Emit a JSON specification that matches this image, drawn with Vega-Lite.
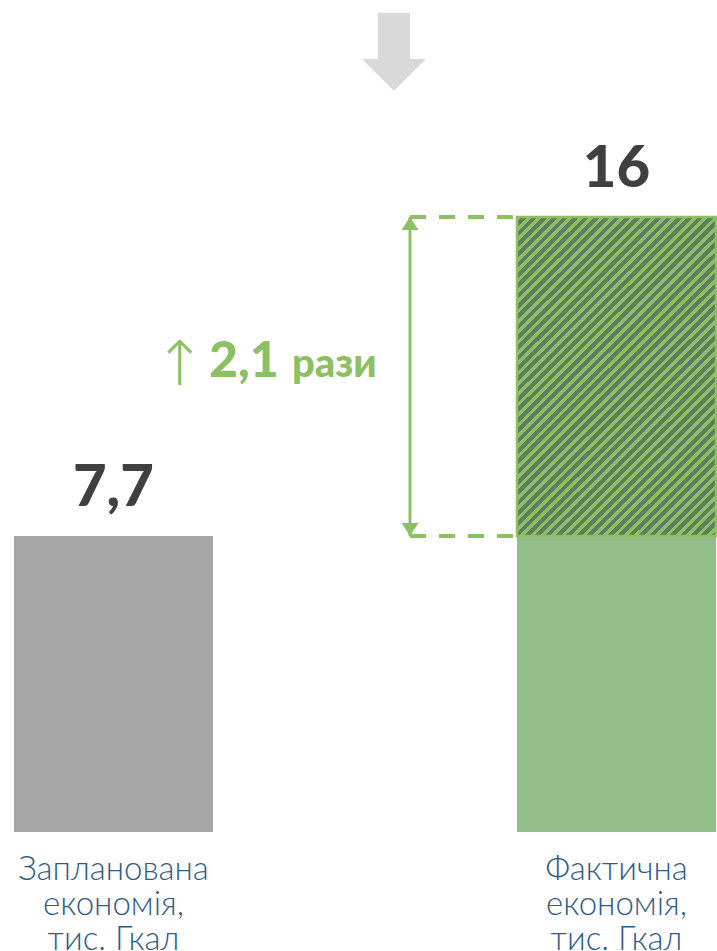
{
  "$schema": "https://vega.github.io/schema/vega-lite/v6.json",
  "width": 717,
  "height": 951,
  "autosize": "none",
  "padding": 0,
  "background": "#ffffff",
  "config": {"view": {"stroke": null}},
  "datasets": {
    "bars": [
      {"category": "Запланована", "segment": "Заплановано", "start": 0, "end": 7.7},
      {"category": "Фактична", "segment": "База", "start": 0, "end": 7.7},
      {"category": "Фактична", "segment": "Понад план", "start": 7.7, "end": 16}
    ],
    "totals": [
      {"category": "Запланована", "total": 7.7, "label": "7,7", "caption": "Запланована\nекономія,\nтис. Гкал"},
      {"category": "Фактична", "total": 16, "label": "16", "caption": "Фактична\nекономія,\nтис. Гкал"}
    ],
    "note": [
      {"arrow": "↑", "ratio": "2,1", "unit": "рази", "mid": 11.85, "top": 20.3}
    ]
  },
  "encoding": {
    "x": {
      "field": "category",
      "type": "nominal",
      "axis": null,
      "scale": {"type": "band", "domain": ["Запланована", "Фактична"], "paddingInner": 0.6044, "paddingOuter": 0.0149, "align": 0.933, "round": false}
    }
  },
  "layer": [
    {
      "data": {"name": "bars"},
      "transform": [{"filter": "datum.segment != 'Понад план'"}],
      "mark": {"type": "bar"},
      "encoding": {
        "y": {"field": "end", "type": "quantitative", "axis": null, "scale": {"domain": [-3.1, 21.65], "nice": false, "zero": false}},
        "y2": {"field": "start"},
        "color": {"field": "segment", "type": "nominal", "legend": null, "scale": {"domain": ["Заплановано", "База"], "range": ["#a6a6a6", "#93bd89"]}}
      }
    },
    {
      "data": {"name": "bars"},
      "transform": [{"filter": "datum.segment == 'Понад план'"}],
      "mark": {
        "type": "bar",
        "stroke": "#8cc063",
        "strokeWidth": 2.5,
        "fill": {
          "gradient": "linear", "x1": 0, "y1": 0, "x2": 0.7273, "y2": 1.1696,
          "stops": [
            {"offset": 0, "color": "#8cc063"}, {"offset": 0.009, "color": "#8cc063"}, {"offset": 0.009, "color": "#5e7d5e"}, {"offset": 0.02, "color": "#5e7d5e"},
            {"offset": 0.02, "color": "#8cc063"}, {"offset": 0.029, "color": "#8cc063"}, {"offset": 0.029, "color": "#5e7d5e"}, {"offset": 0.04, "color": "#5e7d5e"},
            {"offset": 0.04, "color": "#8cc063"}, {"offset": 0.049, "color": "#8cc063"}, {"offset": 0.049, "color": "#5e7d5e"}, {"offset": 0.06, "color": "#5e7d5e"},
            {"offset": 0.06, "color": "#8cc063"}, {"offset": 0.069, "color": "#8cc063"}, {"offset": 0.069, "color": "#5e7d5e"}, {"offset": 0.08, "color": "#5e7d5e"},
            {"offset": 0.08, "color": "#8cc063"}, {"offset": 0.089, "color": "#8cc063"}, {"offset": 0.089, "color": "#5e7d5e"}, {"offset": 0.1, "color": "#5e7d5e"},
            {"offset": 0.1, "color": "#8cc063"}, {"offset": 0.109, "color": "#8cc063"}, {"offset": 0.109, "color": "#5e7d5e"}, {"offset": 0.12, "color": "#5e7d5e"},
            {"offset": 0.12, "color": "#8cc063"}, {"offset": 0.129, "color": "#8cc063"}, {"offset": 0.129, "color": "#5e7d5e"}, {"offset": 0.14, "color": "#5e7d5e"},
            {"offset": 0.14, "color": "#8cc063"}, {"offset": 0.149, "color": "#8cc063"}, {"offset": 0.149, "color": "#5e7d5e"}, {"offset": 0.16, "color": "#5e7d5e"},
            {"offset": 0.16, "color": "#8cc063"}, {"offset": 0.169, "color": "#8cc063"}, {"offset": 0.169, "color": "#5e7d5e"}, {"offset": 0.18, "color": "#5e7d5e"},
            {"offset": 0.18, "color": "#8cc063"}, {"offset": 0.189, "color": "#8cc063"}, {"offset": 0.189, "color": "#5e7d5e"}, {"offset": 0.2, "color": "#5e7d5e"},
            {"offset": 0.2, "color": "#8cc063"}, {"offset": 0.209, "color": "#8cc063"}, {"offset": 0.209, "color": "#5e7d5e"}, {"offset": 0.22, "color": "#5e7d5e"},
            {"offset": 0.22, "color": "#8cc063"}, {"offset": 0.229, "color": "#8cc063"}, {"offset": 0.229, "color": "#5e7d5e"}, {"offset": 0.24, "color": "#5e7d5e"},
            {"offset": 0.24, "color": "#8cc063"}, {"offset": 0.249, "color": "#8cc063"}, {"offset": 0.249, "color": "#5e7d5e"}, {"offset": 0.26, "color": "#5e7d5e"},
            {"offset": 0.26, "color": "#8cc063"}, {"offset": 0.269, "color": "#8cc063"}, {"offset": 0.269, "color": "#5e7d5e"}, {"offset": 0.28, "color": "#5e7d5e"},
            {"offset": 0.28, "color": "#8cc063"}, {"offset": 0.289, "color": "#8cc063"}, {"offset": 0.289, "color": "#5e7d5e"}, {"offset": 0.3, "color": "#5e7d5e"},
            {"offset": 0.3, "color": "#8cc063"}, {"offset": 0.309, "color": "#8cc063"}, {"offset": 0.309, "color": "#5e7d5e"}, {"offset": 0.32, "color": "#5e7d5e"},
            {"offset": 0.32, "color": "#8cc063"}, {"offset": 0.329, "color": "#8cc063"}, {"offset": 0.329, "color": "#5e7d5e"}, {"offset": 0.34, "color": "#5e7d5e"},
            {"offset": 0.34, "color": "#8cc063"}, {"offset": 0.349, "color": "#8cc063"}, {"offset": 0.349, "color": "#5e7d5e"}, {"offset": 0.36, "color": "#5e7d5e"},
            {"offset": 0.36, "color": "#8cc063"}, {"offset": 0.369, "color": "#8cc063"}, {"offset": 0.369, "color": "#5e7d5e"}, {"offset": 0.38, "color": "#5e7d5e"},
            {"offset": 0.38, "color": "#8cc063"}, {"offset": 0.389, "color": "#8cc063"}, {"offset": 0.389, "color": "#5e7d5e"}, {"offset": 0.4, "color": "#5e7d5e"},
            {"offset": 0.4, "color": "#8cc063"}, {"offset": 0.409, "color": "#8cc063"}, {"offset": 0.409, "color": "#5e7d5e"}, {"offset": 0.42, "color": "#5e7d5e"},
            {"offset": 0.42, "color": "#8cc063"}, {"offset": 0.429, "color": "#8cc063"}, {"offset": 0.429, "color": "#5e7d5e"}, {"offset": 0.44, "color": "#5e7d5e"},
            {"offset": 0.44, "color": "#8cc063"}, {"offset": 0.449, "color": "#8cc063"}, {"offset": 0.449, "color": "#5e7d5e"}, {"offset": 0.46, "color": "#5e7d5e"},
            {"offset": 0.46, "color": "#8cc063"}, {"offset": 0.469, "color": "#8cc063"}, {"offset": 0.469, "color": "#5e7d5e"}, {"offset": 0.48, "color": "#5e7d5e"},
            {"offset": 0.48, "color": "#8cc063"}, {"offset": 0.489, "color": "#8cc063"}, {"offset": 0.489, "color": "#5e7d5e"}, {"offset": 0.5, "color": "#5e7d5e"},
            {"offset": 0.5, "color": "#8cc063"}, {"offset": 0.509, "color": "#8cc063"}, {"offset": 0.509, "color": "#5e7d5e"}, {"offset": 0.52, "color": "#5e7d5e"},
            {"offset": 0.52, "color": "#8cc063"}, {"offset": 0.529, "color": "#8cc063"}, {"offset": 0.529, "color": "#5e7d5e"}, {"offset": 0.54, "color": "#5e7d5e"},
            {"offset": 0.54, "color": "#8cc063"}, {"offset": 0.549, "color": "#8cc063"}, {"offset": 0.549, "color": "#5e7d5e"}, {"offset": 0.56, "color": "#5e7d5e"},
            {"offset": 0.56, "color": "#8cc063"}, {"offset": 0.569, "color": "#8cc063"}, {"offset": 0.569, "color": "#5e7d5e"}, {"offset": 0.58, "color": "#5e7d5e"},
            {"offset": 0.58, "color": "#8cc063"}, {"offset": 0.589, "color": "#8cc063"}, {"offset": 0.589, "color": "#5e7d5e"}, {"offset": 0.6, "color": "#5e7d5e"},
            {"offset": 0.6, "color": "#8cc063"}, {"offset": 0.609, "color": "#8cc063"}, {"offset": 0.609, "color": "#5e7d5e"}, {"offset": 0.62, "color": "#5e7d5e"},
            {"offset": 0.62, "color": "#8cc063"}, {"offset": 0.629, "color": "#8cc063"}, {"offset": 0.629, "color": "#5e7d5e"}, {"offset": 0.64, "color": "#5e7d5e"},
            {"offset": 0.64, "color": "#8cc063"}, {"offset": 0.649, "color": "#8cc063"}, {"offset": 0.649, "color": "#5e7d5e"}, {"offset": 0.66, "color": "#5e7d5e"},
            {"offset": 0.66, "color": "#8cc063"}, {"offset": 0.669, "color": "#8cc063"}, {"offset": 0.669, "color": "#5e7d5e"}, {"offset": 0.68, "color": "#5e7d5e"},
            {"offset": 0.68, "color": "#8cc063"}, {"offset": 0.689, "color": "#8cc063"}, {"offset": 0.689, "color": "#5e7d5e"}, {"offset": 0.7, "color": "#5e7d5e"},
            {"offset": 0.7, "color": "#8cc063"}, {"offset": 0.709, "color": "#8cc063"}, {"offset": 0.709, "color": "#5e7d5e"}, {"offset": 0.72, "color": "#5e7d5e"},
            {"offset": 0.72, "color": "#8cc063"}, {"offset": 0.729, "color": "#8cc063"}, {"offset": 0.729, "color": "#5e7d5e"}, {"offset": 0.74, "color": "#5e7d5e"},
            {"offset": 0.74, "color": "#8cc063"}, {"offset": 0.749, "color": "#8cc063"}, {"offset": 0.749, "color": "#5e7d5e"}, {"offset": 0.76, "color": "#5e7d5e"},
            {"offset": 0.76, "color": "#8cc063"}, {"offset": 0.769, "color": "#8cc063"}, {"offset": 0.769, "color": "#5e7d5e"}, {"offset": 0.78, "color": "#5e7d5e"},
            {"offset": 0.78, "color": "#8cc063"}, {"offset": 0.789, "color": "#8cc063"}, {"offset": 0.789, "color": "#5e7d5e"}, {"offset": 0.8, "color": "#5e7d5e"},
            {"offset": 0.8, "color": "#8cc063"}, {"offset": 0.809, "color": "#8cc063"}, {"offset": 0.809, "color": "#5e7d5e"}, {"offset": 0.82, "color": "#5e7d5e"},
            {"offset": 0.82, "color": "#8cc063"}, {"offset": 0.829, "color": "#8cc063"}, {"offset": 0.829, "color": "#5e7d5e"}, {"offset": 0.84, "color": "#5e7d5e"},
            {"offset": 0.84, "color": "#8cc063"}, {"offset": 0.849, "color": "#8cc063"}, {"offset": 0.849, "color": "#5e7d5e"}, {"offset": 0.86, "color": "#5e7d5e"},
            {"offset": 0.86, "color": "#8cc063"}, {"offset": 0.869, "color": "#8cc063"}, {"offset": 0.869, "color": "#5e7d5e"}, {"offset": 0.88, "color": "#5e7d5e"},
            {"offset": 0.88, "color": "#8cc063"}, {"offset": 0.889, "color": "#8cc063"}, {"offset": 0.889, "color": "#5e7d5e"}, {"offset": 0.9, "color": "#5e7d5e"},
            {"offset": 0.9, "color": "#8cc063"}, {"offset": 0.909, "color": "#8cc063"}, {"offset": 0.909, "color": "#5e7d5e"}, {"offset": 0.92, "color": "#5e7d5e"},
            {"offset": 0.92, "color": "#8cc063"}, {"offset": 0.929, "color": "#8cc063"}, {"offset": 0.929, "color": "#5e7d5e"}, {"offset": 0.94, "color": "#5e7d5e"},
            {"offset": 0.94, "color": "#8cc063"}, {"offset": 0.949, "color": "#8cc063"}, {"offset": 0.949, "color": "#5e7d5e"}, {"offset": 0.96, "color": "#5e7d5e"},
            {"offset": 0.96, "color": "#8cc063"}, {"offset": 0.969, "color": "#8cc063"}, {"offset": 0.969, "color": "#5e7d5e"}, {"offset": 0.98, "color": "#5e7d5e"},
            {"offset": 0.98, "color": "#8cc063"}, {"offset": 0.989, "color": "#8cc063"}, {"offset": 0.989, "color": "#5e7d5e"}, {"offset": 1, "color": "#5e7d5e"}
          ]
        }
      },
      "encoding": {
        "y": {"field": "end", "type": "quantitative"},
        "y2": {"field": "start"}
      }
    },
    {
      "data": {"name": "totals"},
      "mark": {"type": "rule", "color": "#8cc063", "strokeWidth": 4, "strokeDash": [16, 13], "xOffset": -206.5, "x2Offset": -103},
      "encoding": {
        "x": {"datum": "Фактична"},
        "x2": {"datum": "Фактична"},
        "y": {"field": "total", "type": "quantitative"}
      }
    },
    {
      "data": {"name": "bars"},
      "transform": [{"filter": "datum.segment == 'Понад план'"}],
      "mark": {"type": "rule", "color": "#8cc063", "strokeWidth": 3, "xOffset": -206.5},
      "encoding": {
        "x": {"datum": "Фактична"},
        "y": {"field": "end", "type": "quantitative"},
        "y2": {"field": "start"}
      }
    },
    {
      "data": {"name": "bars"},
      "transform": [{"filter": "datum.segment == 'Понад план'"}],
      "mark": {"type": "point", "filled": true, "opacity": 1, "color": "#8cc063", "size": 169, "shape": "M 0 -1 L 1.3 1 L -1.3 1 Z", "xOffset": -206.5, "yOffset": 6.5},
      "encoding": {
        "x": {"datum": "Фактична"},
        "y": {"field": "end", "type": "quantitative"}
      }
    },
    {
      "data": {"name": "bars"},
      "transform": [{"filter": "datum.segment == 'Понад план'"}],
      "mark": {"type": "point", "filled": true, "opacity": 1, "color": "#8cc063", "size": 169, "shape": "M 0 1 L 1.3 -1 L -1.3 -1 Z", "xOffset": -206.5, "yOffset": -6.5},
      "encoding": {
        "x": {"datum": "Фактична"},
        "y": {"field": "start", "type": "quantitative"}
      }
    },
    {
      "data": {"name": "totals"},
      "mark": {"type": "text", "font": "Lato", "fontWeight": 900, "fontSize": 58, "color": "#404040", "baseline": "alphabetic", "align": "center", "dy": -30},
      "encoding": {
        "y": {"field": "total", "type": "quantitative"},
        "text": {"field": "label"}
      }
    },
    {
      "data": {"name": "totals"},
      "mark": {"type": "text", "font": "Lato", "fontWeight": 300, "fontSize": 33, "color": "#2e5c8a", "baseline": "alphabetic", "align": "center", "dy": 48, "lineBreak": "\n", "lineHeight": 35},
      "encoding": {
        "y": {"datum": 0, "type": "quantitative"},
        "text": {"field": "caption"}
      }
    },
    {
      "data": {"name": "note"},
      "mark": {"type": "text", "font": "DejaVu Sans", "fontWeight": 200, "fontSize": 62, "color": "#8cc063", "baseline": "alphabetic", "align": "center", "xOffset": -436.5, "dy": 8},
      "encoding": {
        "x": {"datum": "Фактична"},
        "y": {"field": "mid", "type": "quantitative"},
        "text": {"field": "arrow"}
      }
    },
    {
      "data": {"name": "note"},
      "mark": {"type": "text", "font": "Lato", "fontWeight": 900, "fontSize": 50, "color": "#8cc063", "baseline": "alphabetic", "align": "left", "xOffset": -407.5},
      "encoding": {
        "x": {"datum": "Фактична"},
        "y": {"field": "mid", "type": "quantitative"},
        "text": {"field": "ratio"}
      }
    },
    {
      "data": {"name": "note"},
      "mark": {"type": "text", "font": "Lato", "fontWeight": 900, "fontSize": 40, "color": "#8cc063", "baseline": "alphabetic", "align": "left", "xOffset": -324.5},
      "encoding": {
        "x": {"datum": "Фактична"},
        "y": {"field": "mid", "type": "quantitative"},
        "text": {"field": "unit"}
      }
    },
    {
      "data": {"name": "note"},
      "mark": {"type": "point", "filled": true, "opacity": 1, "color": "#d9d9d9", "strokeWidth": 0, "size": 6084, "shape": "M -0.41 -1 L 0.41 -1 L 0.41 0.18 L 0.82 0.18 L 0 1 L -0.82 0.18 L -0.41 0.18 Z", "xOffset": -222.5},
      "encoding": {
        "x": {"datum": "Фактична"},
        "y": {"field": "top", "type": "quantitative"}
      }
    }
  ]
}
